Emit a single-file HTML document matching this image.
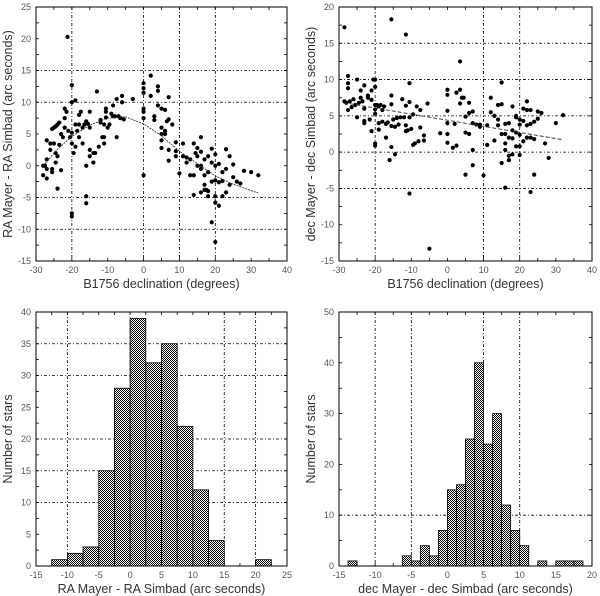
<!DOCTYPE html>
<html><head><meta charset="utf-8"><style>
body{margin:0;background:#fff;}
svg{display:block;font-family:"Liberation Sans",sans-serif;}
.tk{font-size:9px;fill:#555;}
.ttl{font-size:12.5px;fill:#333;}
</style></head><body>
<svg id="fig" width="600" height="596" viewBox="0 0 600 596">
<defs><pattern id="chk" width="2" height="2" patternUnits="userSpaceOnUse"><rect width="2" height="2" fill="#fff"/><rect width="1" height="1" fill="#000"/><rect x="1" y="1" width="1" height="1" fill="#000"/></pattern></defs>
</svg>
<script>
// ---- data: panel A (RA diff vs declination) ----
const raDecl=[-28,-28,-27.5,-27,-27,-27,-27,-26,-26,-25.5,-25.5,-25.5,-25,-25,-24.5,-24.5,-24.5,-24,-24,-24,-23.5,-23.5,-23,-23,-22.5,-22,-22,-22,-21.5,-21.2,-21,-20.5,-20,-20,-20,-20,-20,-20,-19.5,-19,-19,-19,-18.5,-18,-18,-18,-17.5,-17,-17,-16.5,-16,-16,-16,-16,-15.5,-15,-15,-15,-15,-14,-14,-13.5,-13,-12.5,-12,-12,-11.5,-11,-11,-11,-10.5,-10.5,-10.5,-10,-9.5,-9,-8.5,-8.5,-8,-7.5,-7.5,-7,-6.5,-6,-6,-5.5,-3,0,0,0,0,0,0,0,2,2,3,3,4,4,4,5,5,5,5,5,6,6,6,6.5,7,7,7,7,8,9,9,9,10,11,11,12,12,13,13,14,14,14,14.5,15,15,15,16,16,16,16,16,17,17,17,17,17.5,18,18,18,18,19,19,19,19,20,20,20,20,20,20,21,21,21,22,22,22,23,23,23,24,24,25,25,26,27,28,30,32];
const raDiff=[-1.5,0,0,-0.5,-2,1,4,3.5,2.5,-0.5,-1,5.8,6,3.5,6.2,2,0.5,6.5,1.5,-3.6,6.8,3.3,5,-0.7,4.5,7.5,6,9,8.5,20.3,5.5,4.5,10,12.7,3.5,5.2,-7.5,-8,2,10.3,6.5,3,5.5,6.5,4.5,8,8.5,6,3.5,6.5,7,0,-4.8,-5.9,6.6,8.5,6,2.5,1.5,2,0.5,2,11.7,3,6.8,7.2,4.5,6.5,4.5,3.5,9,8.5,7.6,6,6.5,8.2,7.8,9.5,7.8,10.5,4.5,7.8,7.5,11,10,7.3,10.5,13,12.2,11.5,9,8.5,7.5,-1.5,14.2,11,7.8,7.2,12.5,11.8,9.5,9,6,5,4,2.8,8.8,5.5,5,7,7.3,2.5,0.8,10.8,6.5,2.3,1.5,3.7,-1.2,3.5,1.5,1.3,0.5,1,-1.5,-1.5,3.5,-4.6,2,2.8,1.5,0,4.5,2.2,0,-0.5,-4.2,1,-1.5,-3,-3.8,-3.8,1.5,-1,-4.8,-4,2.7,0.5,-2.5,-8.9,1.8,0,-2.3,-4.8,-5.8,-12,-6.3,-2.6,0.3,-1,-2.4,-4.8,2.6,-0.5,-4.2,1.5,-3,-1.8,0.2,-2.5,-2.8,-0.8,-1,-1.5];
const raFitX=[-28,-24,-20,-15,-10,-5,0,5,10,15,20,25,32];
const raFitY=[0,2.6,4.6,6.4,7.5,7.7,6.6,4.7,2.3,0.3,-1.6,-2.9,-4.3];
// ---- data: panel B (dec diff vs declination) ----
const dcDecl=[-28.5,-28.5,-28,-27.5,-27.5,-27.5,-27.5,-27,-26.5,-26,-25.5,-25,-25,-24.5,-24,-24,-23.5,-23,-23,-23,-23,-22,-22,-21.5,-21,-21,-21,-20.5,-20,-20,-20,-20,-20,-20,-20,-19.5,-19,-19,-19,-18.5,-18,-18,-17.5,-17,-17,-16.5,-16,-15.5,-15.5,-15.5,-15.5,-15.5,-15,-14.5,-14.5,-14,-13.5,-13,-12.5,-12,-11.5,-11.5,-11.5,-11.5,-11,-10.5,-10.5,-10.5,-10.5,-10,-9.5,-9.5,-9,-8.5,-8,-7.5,-7.5,-6.5,-6.5,-5.5,-5,-2,0,0,0,0,0,0,1.5,2,2.5,2.5,3.5,3.5,3.5,4,4.5,5,5,5,6,6,6,7,7,7,7,8,9,9,10,11,11,12,12,13,13,14,14,14,15,15,15,15,16,16,16,16,16,17,17,17,17,18,18,18,18,19,19,19,19,20,20,20,20,20,21,21,21,22,22,22,22,23,23,23,23,24,24,24,25,25,26,27,28,30,32];
const dcDiff=[17.2,7,6.8,10.5,9.5,8.8,5.8,7,6.2,7.3,6.5,10,4.8,6.8,7.5,8.5,7,9.2,6,4,4.3,7.8,7.5,4.5,8.5,7.2,2.9,10,10,9,6.5,5.9,5.3,1.2,0.9,6.5,6.3,4,3.1,6.5,4.2,5.8,6.3,3.9,2,4.1,-1.1,18.3,7.8,6.6,3.6,0.7,4.5,3.5,-0.3,4.7,3.8,4.8,7.3,4.8,16.2,6.4,3.7,2.9,3,9.5,6.9,4.8,-5.7,3.2,5.2,1,1.2,6.3,1.5,5.8,3.4,2.3,1.6,6.7,-13.3,2.6,8.6,7.9,5.7,4,2.5,1.3,0.6,3.9,8.2,0.9,12.5,8.6,6.7,7.5,7.5,4.9,2.7,-3.1,6.8,2.5,5.4,5.6,4,0.3,-1.8,3.8,3.8,3.5,-3.2,3.7,1,7.5,5.5,5,1.6,6.5,4.5,3.7,9.6,6.6,2.5,-1.5,3.9,2.5,1.2,0.3,-4.9,4,2,-0.5,-1.1,6.3,3,1.9,-0.3,5,4.8,2.7,0.8,4.5,3.8,2.4,0.8,-0.4,6,4.3,1.5,7,5.8,3.7,2,5.8,3.9,2,-5.5,4.2,1.8,-3.1,5.6,4.6,5.4,1.2,-0.8,4,5.1];
const dcFitX=[-28.5,32];
const dcFitY=[6.8,1.7];
// ---- data: panel C (RA histogram) ----
const raBinStart=[-12.5,-10,-7.5,-5,-2.5,0,2.5,5,7.5,10,12.5,20];
const raBinCount=[1,2,3,15,28,39,32,35,22,12,4,1];
const raBinWidth=2.5;
// ---- data: panel D (dec histogram) ----
const dcBinStart=[-13.75,-6.25,-5,-3.75,-2.5,-1.25,0,1.25,2.5,3.75,5,6.25,7.5,8.75,10,12.5,15,16.25,17.5];
const dcBinCount=[1,2,1,4,2,7,15,16,25,40,24,30,12,7,4,1,1,1,1];
const dcBinWidth=1.25;

const NS="http://www.w3.org/2000/svg";
const svg=document.getElementById('fig');
function mk(tag,attrs,parent){const e=document.createElementNS(NS,tag);for(const k in attrs)e.setAttribute(k,attrs[k]);(parent||svg).appendChild(e);return e;}

function panel(o){
  const g=mk('g',{});
  
  
  const sx=v=>o.x0+(v-o.xmin)/(o.xmax-o.xmin)*(o.x1-o.x0);
  const sy=v=>o.y1-(v-o.ymin)/(o.ymax-o.ymin)*(o.y1-o.y0);
  // grid
  o.gx.forEach(v=>{const l=mk('line',{x1:sx(v),x2:sx(v),y1:o.y0,y2:o.y1,stroke:'#000','stroke-width':0.8,'stroke-dasharray':'3,2,1,2'},g);
    });
  o.gy.forEach(v=>{const l=mk('line',{x1:o.x0,x2:o.x1,y1:sy(v),y2:sy(v),stroke:'#000','stroke-width':0.8,'stroke-dasharray':'3,2,1,2'},g);
    });
  // minor ticks
  for(let v=o.xmin;v<=o.xmax+1e-9;v+=o.xstep/2){const X=sx(v);
    mk('line',{x1:X,x2:X,y1:o.y1,y2:o.y1-3,stroke:'#000','stroke-width':0.8},g);
    mk('line',{x1:X,x2:X,y1:o.y0,y2:o.y0+3,stroke:'#000','stroke-width':0.8},g);}
  for(let v=o.ymin;v<=o.ymax+1e-9;v+=o.ystep/2){const Y=sy(v);
    mk('line',{x1:o.x0,x2:o.x0+3,y1:Y,y2:Y,stroke:'#000','stroke-width':0.8},g);
    mk('line',{x1:o.x1,x2:o.x1-3,y1:Y,y2:Y,stroke:'#000','stroke-width':0.8},g);}
  // tick labels
  for(let v=o.xmin;v<=o.xmax+1e-9;v+=o.xstep){const t=mk('text',{x:sx(v),y:o.y1+12,'text-anchor':'middle',class:'tk'},g);t.textContent=v;
    }
  for(let v=o.ymin;v<=o.ymax+1e-9;v+=o.ystep){const t=mk('text',{x:o.x0-5,y:sy(v)+3,'text-anchor':'end',class:'tk'},g);t.textContent=v;
    }
  // titles
  const xt=mk('text',{x:(o.x0+o.x1)/2,y:o.y1+27,'text-anchor':'middle',class:'ttl'},g);xt.textContent=o.xt;
  
  const yx=o.x0-24,yy=(o.y0+o.y1)/2;
  const yt=mk('text',{x:yx,y:yy,'text-anchor':'middle',class:'ttl',transform:`rotate(-90 ${yx} ${yy})`},g);yt.textContent=o.yt;
  
  return {g,sx,sy,frame:()=>{const f=mk('rect',{x:o.x0,y:o.y0,width:o.x1-o.x0,height:o.y1-o.y0,fill:'none',stroke:'#000','stroke-width':1},g);
    }};
}
function scatter(p,xs,ys,name){xs.forEach((x,i)=>{const c=mk('circle',{cx:p.sx(x),cy:p.sy(ys[i]),r:2.1,fill:'#000'},p.g);
  });}
function fit(p,xs,ys,dash,name){const d=xs.map((x,i)=>(i?'L':'M')+p.sx(x).toFixed(1)+','+p.sy(ys[i]).toFixed(1)).join(' ');
  const l=mk('path',{d,fill:'none',stroke:'#333','stroke-width':0.9,'stroke-dasharray':dash},p.g);
  }
function hist(p,starts,counts,w,name){starts.forEach((s,i)=>{const r=mk('rect',{x:p.sx(s),y:p.sy(counts[i]),width:p.sx(s+w)-p.sx(s),height:p.sy(0)-p.sy(counts[i]),fill:'url(#chk)',stroke:'#000','stroke-width':0.8},p.g);
  });}

const A=panel({name:'ra-scatter-panel',x0:36,x1:287,y0:7,y1:261,xmin:-30,xmax:40,xstep:10,ymin:-15,ymax:25,ystep:5,gx:[-20,0,10,20],gy:[15,10,-5,-10],xt:'B1756 declination (degrees)',yt:'RA Mayer - RA Simbad (arc seconds)'});
scatter(A,raDecl,raDiff,'ra-point');fit(A,raFitX,raFitY,'2,1','ra-fit-curve');A.frame();

const B=panel({name:'dec-scatter-panel',x0:339,x1:592,y0:7,y1:261,xmin:-30,xmax:40,xstep:10,ymin:-15,ymax:20,ystep:5,gx:[-20,10,20],gy:[15,10,5,0,-5],xt:'B1756 declination (degrees)',yt:'dec Mayer - dec Simbad (arc seconds)'});
scatter(B,dcDecl,dcDiff,'dec-point');fit(B,dcFitX,dcFitY,'4,2','dec-fit-line');B.frame();

const C=panel({name:'ra-histogram-panel',x0:36,x1:287,y0:312,y1:566,xmin:-15,xmax:25,xstep:5,ymin:0,ymax:40,ystep:5,gx:[-10,0,15,20],gy:[35,30,20,15,10],xt:'RA Mayer - RA Simbad (arc seconds)',yt:'Number of stars'});
hist(C,raBinStart,raBinCount,raBinWidth,'ra-hist-bar');C.frame();

const D=panel({name:'dec-histogram-panel',x0:339,x1:592,y0:312,y1:566,xmin:-15,xmax:20,xstep:5,ymin:0,ymax:50,ystep:10,gx:[-10,-5,5,10],gy:[10],xt:'dec Mayer - dec Simbad (arc seconds)',yt:'Number of stars'});
hist(D,dcBinStart,dcBinCount,dcBinWidth,'dec-hist-bar');D.frame();
</script>
</body></html>
